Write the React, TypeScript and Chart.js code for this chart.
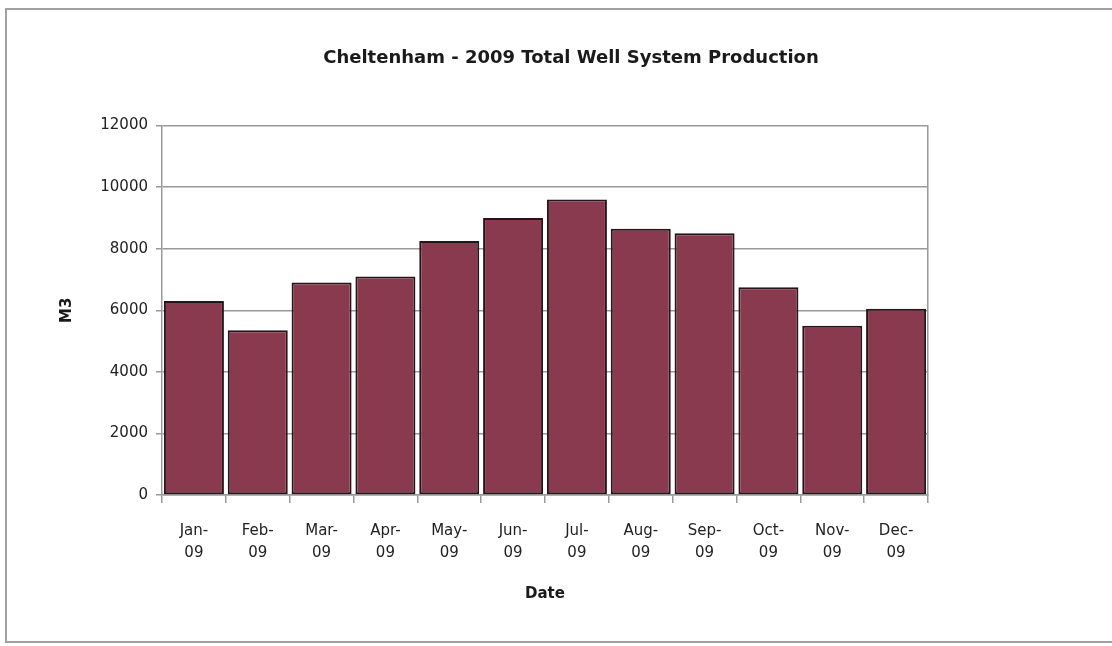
import React, { useEffect, useRef } from "react";
import { Chart, registerables } from "chart.js";

Chart.register(...registerables);

const chartTitle = "Cheltenham - 2009 Total Well System Production";
const yAxisTitle = "M3";
const xAxisTitle = "Date";
const categories: string[][] = [
  ["Jan-", "09"], ["Feb-", "09"], ["Mar-", "09"], ["Apr-", "09"],
  ["May-", "09"], ["Jun-", "09"], ["Jul-", "09"], ["Aug-", "09"],
  ["Sep-", "09"], ["Oct-", "09"], ["Nov-", "09"], ["Dec-", "09"],
];
const production: number[] = [6300, 5350, 6900, 7100, 8250, 9000, 9600, 8650, 8500, 6750, 5500, 6050];
const yMin = 0;
const yMax = 12000;
const yStep = 2000;

const W = 1112;
const H = 646;
const FONT = "'DejaVu Sans', 'Liberation Sans', Arial, sans-serif";

export default function App() {
  const ref = useRef<HTMLCanvasElement | null>(null);

  useEffect(() => {
    if (!ref.current) return;
    const gridColor = "#9a9a9a";
    const chart = new Chart(ref.current, {
      type: "bar",
      data: {
        labels: categories,
        datasets: [
          {
            label: "Production",
            data: production,
            backgroundColor: "#8a3a4f",
            borderColor: "#24151a",
            borderWidth: 2,
            borderSkipped: false,
            barPercentage: 0.94,
            categoryPercentage: 1.0,
          },
        ],
      },
      options: {
        responsive: false,
        animation: false,
        layout: { padding: { left: 30, right: 0, top: 0, bottom: 0 } },
        plugins: {
          legend: { display: false },
          tooltip: { enabled: false },
          title: {
            display: true,
            text: chartTitle,
            color: "#1a1a1a",
            font: { family: FONT, size: 18, weight: "bold", lineHeight: 1.2 },
            padding: { top: 48, bottom: 56 },
          },
        },
        scales: {
          x: {
            offset: true,
            grid: {
              display: true,
              drawOnChartArea: false,
              drawTicks: true,
              tickLength: 8,
              color: gridColor,
              lineWidth: 1.5,
              offset: true,
            },
            border: { display: true, color: gridColor, width: 1.5 },
            ticks: {
              color: "#222222",
              font: { family: FONT, size: 15, lineHeight: "22px" },
              padding: 17,
              maxRotation: 0,
              autoSkip: false,
            },
            title: {
              display: true,
              text: xAxisTitle,
              color: "#1a1a1a",
              font: { family: FONT, size: 15, weight: "bold", lineHeight: 1.2 },
              padding: { top: 0, bottom: 43 },
            },
            afterFit: (s: any) => {
              s.height = H - 495;
            },
          },
          y: {
            min: yMin,
            max: yMax,
            ticks: {
              stepSize: yStep,
              color: "#222222",
              font: { family: FONT, size: 15 },
              padding: 8,
              callback: (v: any) => String(v),
            },
            grid: {
              color: gridColor,
              lineWidth: 1.5,
              tickLength: 6,
            },
            border: { display: true, color: gridColor, width: 1.5 },
            title: {
              display: true,
              text: yAxisTitle,
              color: "#1a1a1a",
              font: { family: FONT, size: 15, weight: "bold", lineHeight: 1.2 },
              padding: { top: 28, bottom: 0 },
            },
            afterFit: (s: any) => {
              s.width = 162 - 30;
            },
          },
          r: {
            type: "linear",
            position: "right",
            display: true,
            grid: { display: false, drawTicks: false },
            ticks: { display: false },
            border: { display: true, color: gridColor, width: 1.5 },
            afterFit: (s: any) => {
              s.width = W - 928;
            },
          },
        },
      },
    } as any);
    return () => chart.destroy();
  }, []);

  return (
    <div style={{ position: "absolute", left: 0, top: 0, width: W, height: H, overflow: "hidden", background: "#fff" }}>
      <div
        style={{
          position: "absolute",
          left: 5,
          top: 8,
          width: W + 20,
          height: H - 11,
          borderLeft: "2px solid #a0a0a0",
          borderTop: "2px solid #a0a0a0",
          borderBottom: "2px solid #a0a0a0",
          boxSizing: "border-box",
        }}
      />
      <canvas ref={ref} width={W} height={H} style={{ position: "absolute", left: 0, top: 0, width: W, height: H }} />
    </div>
  );
}
